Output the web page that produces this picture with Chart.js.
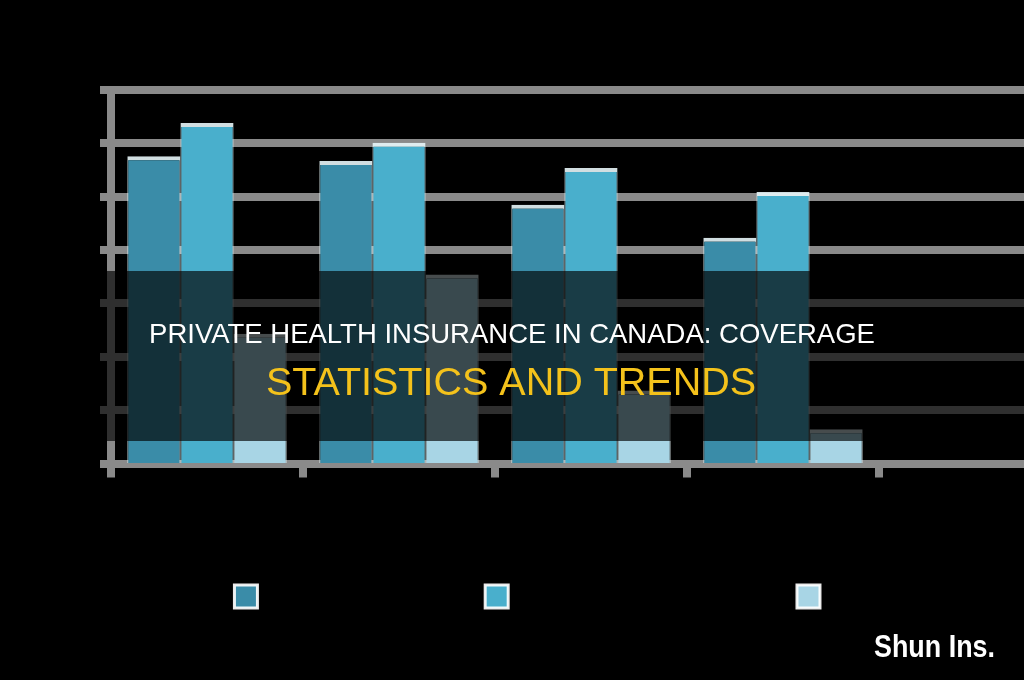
<!DOCTYPE html>
<html><head><meta charset="utf-8">
<script src="https://cdn.jsdelivr.net/npm/chart.js@4.4.1/dist/chart.umd.min.js"></script>
<style>html,body{margin:0;padding:0;background:#000;overflow:hidden}canvas{display:block}</style>
</head><body>
<canvas id="c" width="1024" height="680"></canvas>
<script>
const categories = ["18–34", "35–54", "55–64", "65+"];
const seriesNames = ["Employer-Sponsored Plans", "Individually Purchased Private Plans", "Government Plans Only"];
const employerValues = [57.6, 56.7, 48.5, 42.3];
const individualValues = [63.8, 60.1, 55.4, 50.9];
const governmentValues = [24.3, 35.4, 13.7, 6.4];
const seriesColors = ["#3a8ca8", "#49afcc", "#a8d5e5"];
const yTicks = [0, 10, 20, 30, 40, 50, 60, 70];
const titleLine1 = "PRIVATE HEALTH INSURANCE IN CANADA: COVERAGE";
const titleLine2 = "STATISTICS AND TRENDS";
const watermark = "Shun Ins.";

const FONT = '"Liberation Sans", Arial, sans-serif';

const fullGrid = {
  id: 'fullGrid',
  beforeDatasetsDraw(chart) {
    const y = chart.scales.y, ctx = chart.ctx;
    ctx.save();
    ctx.strokeStyle = '#8a8a8a';
    ctx.lineWidth = 8;
    y.ticks.forEach(t => {
      const py = Math.round(y.getPixelForValue(t.value));
      ctx.beginPath();
      ctx.moveTo(100, py);
      ctx.lineTo(chart.width, py);
      ctx.stroke();
    });
    ctx.restore();
  }
};

const overlay = {
  id: 'overlay',
  afterDraw(chart) {
    const ctx = chart.ctx;
    ctx.save();
    ctx.fillStyle = 'rgba(0,0,0,0.66)';
    ctx.fillRect(0, 271, chart.width, 170);
    ctx.textAlign = 'center';
    ctx.textBaseline = 'alphabetic';
    ctx.fillStyle = '#ffffff';
    ctx.font = '27.5px ' + FONT;
    ctx.fillText(titleLine1, 512, 343);
    ctx.fillStyle = '#f4c21b';
    ctx.font = '39.5px ' + FONT;
    ctx.fillText(titleLine2, 511, 395);
    // watermark, condensed to the reference width
    ctx.fillStyle = '#ffffff';
    ctx.textAlign = 'left';
    ctx.font = 'bold 31px ' + FONT;
    const w = ctx.measureText(watermark).width;
    const target = 121;
    ctx.translate(874, 657);
    ctx.scale(target / w, 1);
    ctx.fillText(watermark, 0, 0);
    ctx.restore();
  }
};

const valueSets = [employerValues, individualValues, governmentValues];
const datasets = seriesNames.map((name, i) => ({
  label: name,
  data: valueSets[i],
  backgroundColor: seriesColors[i],
  borderColor: 'rgba(232,246,250,0.9)',
  borderWidth: {top: 4, left: 1, right: 1, bottom: 0},
  categoryPercentage: 0.83,
  barPercentage: 1.0,
  yAxisID: 'y'
}));

new Chart(document.getElementById('c'), {
  type: 'bar',
  data: { labels: categories, datasets },
  options: {
    responsive: false,
    animation: false,
    devicePixelRatio: 1,
    layout: { padding: { top: 90, bottom: 62, left: 0, right: 0 } },
    plugins: {
      tooltip: { enabled: false },
      legend: {
        position: 'bottom',
        align: 'end',
        labels: {
          color: '#000',
          font: { size: 15.25, family: FONT },
          boxWidth: 23,
          boxHeight: 23,
          padding: 34.5,
          generateLabels(chart) {
            const items = Chart.defaults.plugins.legend.labels.generateLabels(chart);
            return items.map(it => Object.assign(it, { lineWidth: 3, strokeStyle: 'rgba(255,255,255,0.92)' }));
          }
        }
      }
    },
    scales: {
      x: {
        offset: true,
        grid: { display: true, drawOnChartArea: false, drawTicks: true, tickLength: 14, lineWidth: 8, color: '#8a8a8a', offset: true },
        border: { display: false },
        ticks: { color: '#000', font: { size: 16, family: FONT }, padding: 10 },
        afterFit(s) { s.height = 87; }
      },
      y: {
        min: 0, max: 70,
        afterBuildTicks(s) { s.ticks = yTicks.map(v => ({ value: v })); },
        grid: { display: true, drawOnChartArea: false, drawTicks: false, color: 'rgba(0,0,0,0)' },
        border: { display: true, color: '#8a8a8a', width: 8 },
        ticks: { color: '#000', font: { size: 16, family: FONT } },
        afterFit(s) { s.width = 111; }
      },
      yR: {
        position: 'right',
        display: true,
        grid: { display: false },
        border: { display: false },
        ticks: { display: false },
        afterFit(s) { s.width = 145; }
      }
    }
  },
  plugins: [fullGrid, overlay]
});
</script>
</body></html>
